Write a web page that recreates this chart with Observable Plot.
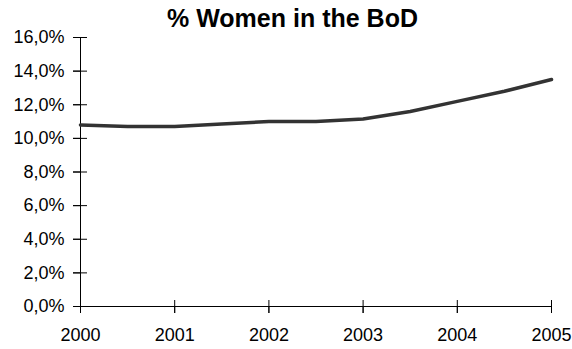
<!DOCTYPE html>
<html>
<head>
<meta charset="utf-8">
<script src="https://cdn.jsdelivr.net/npm/d3@7"></script>
<script src="https://cdn.jsdelivr.net/npm/@observablehq/plot@0.6"></script>
<style>
  html, body { margin: 0; padding: 0; background: #fff; }
  #wrap { position: relative; width: 572px; height: 349px; font-family: "Liberation Sans", Arial, sans-serif; }
  #title { position: absolute; left: 0; top: 4px; width: 585px; text-align: center; font-weight: bold; font-size: 25px; color: #000; line-height: 28px; z-index: 2; }
</style>
</head>
<body>
<div id="wrap">
  <div id="title">% Women in the BoD</div>
</div>
<script>
const years = [2000, 2000.5, 2001, 2001.5, 2002, 2002.5, 2003, 2003.5, 2004, 2004.5, 2005];
const womenPct = [10.8, 10.7, 10.7, 10.85, 11.0, 11.0, 11.15, 11.6, 12.2, 12.8, 13.5];
const xTicks = [2000, 2001, 2002, 2003, 2004, 2005];
const yTicks = [0, 2, 4, 6, 8, 10, 12, 14, 16];

const data = years.map((y, i) => ({year: y, value: womenPct[i]}));
const fmtY = d => d.toFixed(1).replace(".", ",") + "%";

const chart = Plot.plot({
  width: 572,
  height: 349,
  marginLeft: 80,
  marginRight: 21,
  marginTop: 37,
  marginBottom: 43,
  style: {fontFamily: "'Liberation Sans', Arial, sans-serif", fontSize: "18px", color: "#000", background: "transparent"},
  x: {domain: [2000, 2005], label: null},
  y: {domain: [0, 16], label: null},
  marks: [
    Plot.axisY({ticks: yTicks, tickFormat: fmtY, tickSize: 7, tickPadding: 9, label: null, stroke: "#000"}),
    Plot.axisY({ticks: yTicks, tickFormat: () => "", tickSize: 14, dx: 7, label: null, stroke: "#000"}),
    Plot.axisX({ticks: xTicks, tickFormat: d => String(d), tickSize: 7, tickPadding: 15, label: null, stroke: "#000"}),
    Plot.axisX({ticks: xTicks, tickFormat: () => "", tickSize: 13, dy: -6, label: null, stroke: "#000"}),
    Plot.ruleX([2000], {stroke: "#000"}),
    Plot.ruleY([0], {stroke: "#000"}),
    Plot.line(data, {x: "year", y: "value", stroke: "#333", strokeWidth: 3.5})
  ]
});
document.getElementById("wrap").prepend(chart);
chart.style.position = "absolute";
chart.style.left = "0";
chart.style.top = "0";
</script>
</body>
</html>
